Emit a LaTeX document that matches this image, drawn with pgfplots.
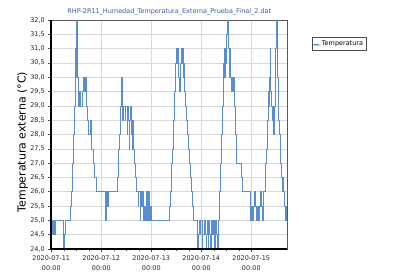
\documentclass[border=0pt]{standalone}
\usepackage{fontspec}
\setmainfont{DejaVu Sans}
\usepackage{pgfplots}
\usepackage{pgfplotstable}
\pgfplotsset{compat=1.18}
\usetikzlibrary{shadows}
\definecolor{serie}{RGB}{90,140,210}
\definecolor{titblue}{RGB}{60,90,170}

\pgfplotstableread{
t v
0.000 25.0
0.024 24.5
0.044 25.0
0.064 24.5
0.074 25.0
0.234 24.5
0.248 24.0
0.260 24.5
0.274 25.0
0.374 25.5
0.394 26.0
0.410 26.5
0.422 27.0
0.434 27.5
0.444 28.0
0.454 28.5
0.462 29.0
0.470 30.0
0.480 31.0
0.490 30.0
0.498 31.0
0.506 32.0
0.514 31.0
0.522 30.0
0.530 29.5
0.540 29.0
0.564 29.5
0.574 29.0
0.614 29.5
0.634 30.0
0.664 29.5
0.684 30.0
0.700 29.0
0.718 28.5
0.744 28.0
0.784 28.5
0.794 27.5
0.834 27.0
0.864 26.5
0.894 26.0
1.074 25.5
1.086 25.0
1.104 26.0
1.118 25.5
1.130 26.0
1.314 26.5
1.334 27.0
1.348 27.5
1.360 28.0
1.374 28.5
1.386 29.0
1.398 30.0
1.410 29.0
1.424 28.5
1.434 29.0
1.474 28.5
1.486 29.0
1.514 28.0
1.526 29.0
1.544 28.5
1.554 27.5
1.566 28.5
1.580 29.0
1.594 28.0
1.610 27.5
1.624 28.5
1.644 27.5
1.658 27.0
1.674 26.5
1.700 26.0
1.734 25.5
1.746 26.0
1.774 25.0
1.786 26.0
1.804 25.5
1.818 26.0
1.844 25.0
1.858 25.5
1.874 25.0
1.894 26.0
1.910 25.0
1.934 26.0
1.954 25.0
1.984 25.5
1.994 25.0
2.354 25.5
2.374 26.0
2.394 26.5
2.408 27.0
2.420 27.5
2.434 28.0
2.446 28.5
2.454 29.0
2.464 29.5
2.474 30.0
2.484 30.5
2.494 31.0
2.514 30.5
2.524 31.0
2.544 30.0
2.554 29.5
2.570 30.0
2.584 30.5
2.594 31.0
2.608 30.5
2.620 31.0
2.634 30.0
2.654 30.5
2.668 29.5
2.684 29.0
2.704 28.5
2.724 28.0
2.748 27.5
2.764 27.0
2.780 26.5
2.794 26.0
2.814 25.5
2.844 25.0
2.914 24.5
2.924 24.0
2.940 24.5
2.954 25.0
2.974 24.5
2.988 25.0
3.014 24.0
3.028 24.5
3.054 25.0
3.074 24.5
3.090 24.0
3.104 24.5
3.120 25.0
3.134 24.0
3.146 25.0
3.164 24.5
3.178 24.0
3.194 25.0
3.214 24.5
3.234 25.0
3.254 24.0
3.270 25.0
3.294 24.5
3.314 24.0
3.330 24.5
3.344 25.0
3.354 25.5
3.364 26.0
3.374 26.5
3.384 27.0
3.394 27.5
3.404 28.0
3.414 28.5
3.424 29.0
3.434 29.5
3.444 30.5
3.454 31.0
3.464 30.0
3.474 31.0
3.484 30.5
3.500 31.5
3.510 32.0
3.524 31.5
3.534 32.0
3.546 31.0
3.554 30.0
3.564 30.5
3.574 31.0
3.586 30.0
3.600 29.5
3.614 30.0
3.630 29.5
3.644 30.0
3.654 29.0
3.670 28.5
3.684 28.0
3.700 27.0
3.808 26.5
3.820 26.0
3.974 25.5
3.988 25.0
4.004 25.5
4.018 25.0
4.034 25.5
4.054 26.0
4.084 25.5
4.100 25.0
4.120 25.5
4.144 25.0
4.154 25.5
4.184 26.0
4.204 25.5
4.220 25.0
4.234 25.5
4.248 26.0
4.274 26.5
4.288 27.0
4.300 27.5
4.314 28.0
4.324 28.5
4.334 29.0
4.344 29.5
4.354 29.0
4.364 30.0
4.374 31.0
4.384 29.5
4.398 29.0
4.414 28.5
4.430 29.0
4.444 28.0
4.460 29.0
4.474 30.0
4.486 31.0
4.498 32.0
4.510 31.0
4.520 30.0
4.534 29.0
4.548 28.5
4.560 28.0
4.574 27.5
4.588 27.0
4.604 26.5
4.620 26.0
4.634 26.5
4.646 26.0
4.664 25.5
4.678 25.0
4.694 25.5
4.708 25.0
4.720 25.0
}\temptable

\begin{document}
\begin{tikzpicture}[x=1bp,y=1bp]
\path[use as bounding box] (0,0) rectangle (400,278);
\begin{axis}[
  at={(51.3bp,29bp)}, anchor=south west,
  width=236bp, height=229bp, scale only axis,
  xmin=0, xmax=4.72, ymin=24, ymax=32,
  clip mode=individual,
  xtick={0,1,2,3,4},
  xticklabels={{2020-07-11\\00:00},{2020-07-12\\00:00},{2020-07-13\\00:00},{2020-07-14\\00:00},{2020-07-15\\00:00}},
  xticklabel style={align=center, font=\fontsize{6.5}{10}\selectfont, text=black!85},
  minor x tick num=3,
  ytick={24,24.5,25,25.5,26,26.5,27,27.5,28,28.5,29,29.5,30,30.5,31,31.5,32},
  yticklabel style={font=\fontsize{6.5}{8}\selectfont, text=black!85,
    /pgf/number format/.cd, fixed, fixed zerofill, precision=1, use comma},
  /pgf/number format/assume math mode=true,
  tick pos=left,
  grid=major, major grid style={gray!30, line width=0.6bp},
  tick align=outside, major tick length=3bp, minor tick length=2bp,
  tick style={black!70, line width=0.5bp},
  axis line style={gray!70!black, line width=0.6bp},
  ylabel={Temperatura externa (°C)},
  ylabel style={font=\fontsize{11}{13}\selectfont, at={(axis description cs:-0.122,0.467)}, anchor=center},
  title={RHP-2R11\_Humedad\_Temperatura\_Externa\_Prueba\_Final\_2.dat},
  every axis title shift=0pt,
  title style={font=\fontsize{6.5}{8}\selectfont, text=titblue, at={(axis description cs:0.5,1)}, anchor=base, yshift=6.6bp},
  legend style={at={(axis description cs:1.103,0.924)}, anchor=north west,
    font=\fontsize{6.5}{8}\selectfont, draw=gray!60!black, line width=0.5bp,
    inner sep=1.2bp, drop shadow={shadow xshift=1bp, shadow yshift=-1bp, opacity=0.4},
    fill=white},
  legend cell align=left,
  legend image code/.code={\draw[serie, line width=0.8bp] (0bp,0bp) -- (6bp,0bp);},
]
\addplot[const plot, serie, line width=0.55bp, mark=none] table[x=t, y=v] {\temptable};
\addlegendentry{Temperatura}
\draw[black, line width=1.8bp] (rel axis cs:0,1) -- (rel axis cs:0,0) -- (rel axis cs:1,0);
\end{axis}
\end{tikzpicture}
\end{document}
